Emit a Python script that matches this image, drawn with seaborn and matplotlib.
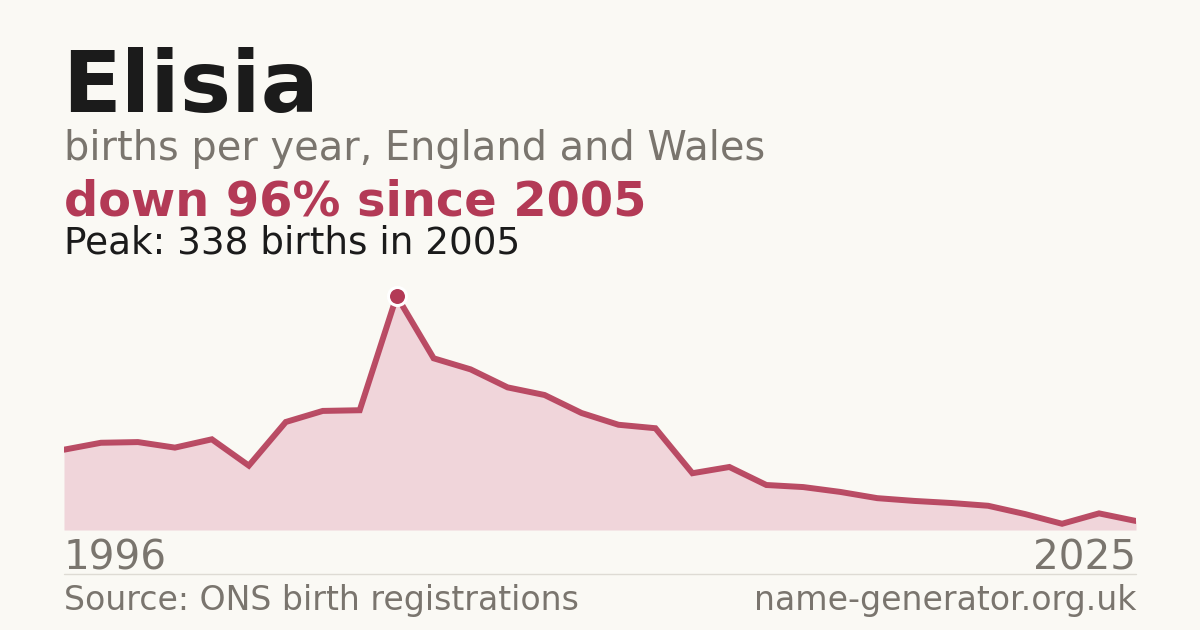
import numpy as np
import pandas as pd
import matplotlib
matplotlib.use("Agg")
import matplotlib.pyplot as plt
import seaborn as sns

# births per year for the name
years = list(range(1996, 2026))
births = [116, 126, 127, 119, 131, 93, 156, 172, 173, 338,
          248, 232, 206, 195, 169, 152, 147, 82, 91, 65,
          62, 55, 46, 42, 39, 35, 23, 9, 24, 13]

name = "Elisia"
subtitle = "births per year, England and Wales"
headline = "down 96% since 2005"
peak_note = "Peak: 338 births in 2005"
source = "Source: ONS birth registrations"
site = "name-generator.org.uk"

BG = "#faf9f4"
RED = "#b33a56"
FILL = "#f0d5da"
GREY = "#7a756e"
INK = "#1b1b1b"

df = pd.DataFrame({"year": years, "births": births})
peak = df.loc[df["births"].idxmax()]

sns.set_theme(style="white")
plt.rcParams["font.family"] = ["DejaVu Sans"]

W, H = 1200, 630
fig = plt.figure(figsize=(12, 6.3), dpi=100, facecolor=BG)


def fx(px):
    return px / W


def fy(py):
    return 1 - py / H


# plot area: x 64..1136 px, baseline at 530 px, peak at 296 px
top_px = 280
ax = fig.add_axes([fx(64), fy(530), fx(1136) - fx(64), (530 - top_px) / H])
ax.set_facecolor(BG)
ax.fill_between(df["year"], df["births"], 0, color=FILL, lw=0)
sns.lineplot(data=df, x="year", y="births", ax=ax, color=RED, lw=4.3,
             alpha=0.9, solid_joinstyle="miter")
ax.plot([peak["year"]], [peak["births"]], "o", ms=13, color=RED,
        mec="white", mew=2.2, clip_on=False, zorder=5)
ax.set_xlim(years[0], years[-1])
ax.set_ylim(0, peak["births"] * (530 - top_px) / (530 - 296))
ax.axis("off")

# header texts
fig.text(fx(62), fy(112), name, fontsize=62, fontweight="bold", color=INK)
fig.text(fx(64), fy(160), subtitle, fontsize=28.7, color=GREY)
fig.text(fx(64), fy(215), headline, fontsize=34.5, fontweight="bold", color=RED)
fig.text(fx(64), fy(253), peak_note, fontsize=26.9, color=INK)

# year labels under the area
fig.text(fx(64), fy(569), str(years[0]), fontsize=29.2, color=GREY)
fig.text(fx(1136), fy(569), str(years[-1]), fontsize=29.2, color=GREY, ha="right")

# thin rule and footer
fig.add_artist(plt.Line2D([fx(64), fx(1136)], [fy(574), fy(574)],
                          color="#dedbd4", lw=1))
fig.text(fx(64), fy(610), source, fontsize=23.9, color=GREY)
fig.text(fx(1136), fy(610), site, fontsize=23.9, color=GREY, ha="right")

fig.savefig("out.png", dpi=100, facecolor=BG)
